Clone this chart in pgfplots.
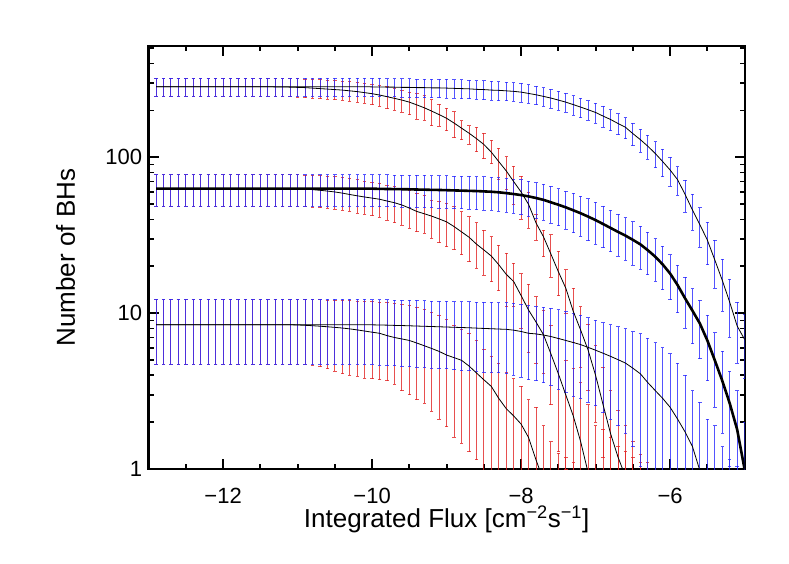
\documentclass[border=0pt]{standalone}
\usepackage{pgfplots}
\usepackage{pgfplotstable}
\pgfplotsset{compat=1.18}
\usepackage{fontspec}
\setmainfont{Liberation Sans}
\definecolor{cbl}{RGB}{40,40,255}
\definecolor{crd}{RGB}{225,35,35}

% A: top, blue bars, thin line
\pgfplotstableread{
x n lo hi
-12.9 284 246 322
-12.8 284 246 322
-12.7 284 246 322
-12.6 284 246 322
-12.5 284 246 322
-12.4 284 246 322
-12.3 284 246 322
-12.2 284 246 322
-12.1 284 246 322
-12.0 284 246 322
-11.9 284 246 322
-11.8 284 246 322
-11.7 284 246 322
-11.6 284 246 322
-11.5 284 246 322
-11.4 284 246 322
-11.3 284 246 322
-11.2 284 246 322
-11.1 284 246 322
-11.0 284 246 322
-10.9 284 246 322
-10.8 284 246 322
-10.7 284 246 322
-10.6 284 246 322
-10.5 284 246 322
-10.4 284 246 322
-10.3 284 246 322
-10.2 284 246 322
-10.1 284 246 322
-10.0 283 245 321
-9.9 283 245 321
-9.8 282 244 320
-9.7 282 244 320
-9.6 281 243 319
-9.5 281 243 319
-9.4 280 242 318
-9.3 280 242 318
-9.2 279 241 317
-9.1 279 241 317
-9.0 278 240 316
-8.9 277 239 315
-8.8 276 238 314
-8.7 275 237 313
-8.6 273 235 311
-8.5 272 234 310
-8.4 270 232 308
-8.3 269 231.5 306.5
-8.2 267 230 304
-8.1 265 228.5 301.5
-8.0 262 226 298
-7.9 257 221.5 292.5
-7.8 252 217 287
-7.7 246 212 280
-7.6 240 206.5 273.5
-7.5 233 200 266
-7.4 226 194 258
-7.3 218 187 249
-7.2 210 180 240
-7.1 202 172.5 231.5
-7.0 194 165 223
-6.9 184 156 212
-6.8 175 148.5 201.5
-6.7 165 140 190
-6.6 156 132 180
-6.5 142 119 165
-6.4 130 108 152
-6.3 118 97 139
-6.2 106 86 126
-6.1 94 75 113
-6.0 83 65.5 100.5
-5.9 72 57 87
-5.8 58 44.5 71.5
-5.7 46 34 58
-5.6 37 26.5 47.5
-5.5 29.5 20.5 38.5
-5.4 22 14.5 29.5
-5.3 16.3 10.3 22.3
-5.2 11.8 7 16.6
-5.1 8.3 4.8 11.8
-5.0 6.8 3.8 9.8
}\tabA

% B: top, red bars, thin line
\pgfplotstableread{
x n lo hi
-12.9 284 246 322
-12.8 284 246 322
-12.7 284 246 322
-12.6 284 246 322
-12.5 284 246 322
-12.4 284 246 322
-12.3 284 246 322
-12.2 284 246 322
-12.1 284 246 322
-12.0 284 246 322
-11.9 284 246 322
-11.8 284 246 322
-11.7 284 246 322
-11.6 284 246 322
-11.5 284 246 322
-11.4 284 246 322
-11.3 283 245 321
-11.2 283 245 321
-11.1 282 244 320
-11.0 281 243 319
-10.9 280 242 318
-10.8 278 240 316
-10.7 276 238 314
-10.6 274 236 312
-10.5 272 234 310
-10.4 270 232 308
-10.3 267 229 305
-10.2 264 226 302
-10.1 260 222 298
-10.0 256 218 294
-9.9 251 213 290
-9.8 245 205 285
-9.7 239 201 276
-9.6 233 195 268
-9.5 226 188 262
-9.4 217 175 256
-9.3 208 173 248
-9.2 198 160 234
-9.1 188 158 220
-9.0 178 148 206
-8.9 166 134 196
-8.8 154 130 172
-8.7 143 121 160
-8.6 132 109 156
-8.5 121 98 143
-8.4 108 91 129
-8.3 94 72 114
-8.2 82 62 101
-8.1 70 50 88
-8.0 60 40 76
-7.9 50 35 60
-7.8 38 29.5 43
-7.7 31 23 34
-7.6 24 17 32
-7.5 18.5 13 25
-7.4 14.5 10 19
-7.3 10.3 6.5 14.5
-7.2 7.8 4.5 11
-7.1 5.8 3.2 8.5
-7.0 4.0 2.0 6.2
-6.9 2.6 1.2 4.5
-6.8 1.7 0.7 3.2
-6.7 1.2 0.4 2.4
-6.6 0.9 0.3 1.9
-6.5 nan 0.2 1.5
-6.4 nan 0.2 1.25
-6.3 nan 0.2 1.1
}\tabB

% C: middle, blue bars, thick line
\pgfplotstableread{
x n lo hi
-12.9 63 48.5 77.5
-12.8 63 48.5 77.5
-12.7 63 48.5 77.5
-12.6 63 48.5 77.5
-12.5 63 48.5 77.5
-12.4 63 48.5 77.5
-12.3 63 48.5 77.5
-12.2 63 48.5 77.5
-12.1 63 48.5 77.5
-12.0 63 48.5 77.5
-11.9 63 48.5 77.5
-11.8 63 48.5 77.5
-11.7 63 48.5 77.5
-11.6 63 48.5 77.5
-11.5 63 48.5 77.5
-11.4 63 48.5 77.5
-11.3 63 48.5 77.5
-11.2 63 48.5 77.5
-11.1 63 48.5 77.5
-11.0 63 48.5 77.5
-10.9 63 48.5 77.5
-10.8 63 48.5 77.5
-10.7 63 48.5 77.5
-10.6 63 48.5 77.5
-10.5 63 48.5 77.5
-10.4 63 48.5 77.5
-10.3 63 48.5 77.5
-10.2 63 48.5 77.5
-10.1 63 48.5 77.5
-10.0 63 48.5 77.5
-9.9 62.8 48.3 77.3
-9.8 62.7 48.2 77.2
-9.7 62.6 48.1 77.1
-9.6 62.5 48 77
-9.5 62.4 47.9 76.9
-9.4 62.2 47.7 76.7
-9.3 62.1 47.6 76.6
-9.2 61.9 47.4 76.4
-9.1 61.8 47.3 76.3
-9.0 61.6 47.1 76.1
-8.9 61.4 46.9 75.9
-8.8 61.2 46.7 75.7
-8.7 61.0 46.5 75.5
-8.6 60.8 46.3 75.3
-8.5 60.5 46 75
-8.4 60.2 45.7 74.7
-8.3 59.7 45.2 74.2
-8.2 59.0 44.5 73.5
-8.1 58.2 43.7 72.7
-8.0 57.3 42.8 71.8
-7.9 56.2 41.9 70.5
-7.8 54.9 40.8 69
-7.7 53.4 39.5 67.3
-7.6 51.5 37.9 65.1
-7.5 49.7 36.4 63
-7.4 47.8 34.7 60.9
-7.3 45.8 32.9 58.7
-7.2 43.8 31.1 56.5
-7.1 41.7 29.2 54.2
-7.0 39.6 27.8 51.4
-6.9 37.4 26.3 48.5
-6.8 35.3 24.8 45.8
-6.7 33.3 23.3 43.3
-6.6 31.5 21.9 41.1
-6.5 29.6 20.4 38.8
-6.4 27.7 19.2 36.2
-6.3 25.4 17.7 33.1
-6.2 23.1 16.1 30.1
-6.1 20.6 14.2 27
-6.0 18.0 12.2 23.8
-5.9 15.2 10.1 20.3
-5.8 12.5 8 17
-5.7 10.4 6.4 14.4
-5.6 8.6 5.1 12.1
-5.5 6.7 3.7 9.7
-5.4 5.0 2.5 7.5
-5.3 3.7 1.7 5.7
-5.2 2.65 1.05 4.25
-5.1 1.8 0.4 3.2
-5.0 1.0 0.2 2.0
}\tabC

% D: middle, red bars, thin line
\pgfplotstableread{
x n lo hi
-12.9 63 48.5 77.5
-12.8 63 48.5 77.5
-12.7 63 48.5 77.5
-12.6 63 48.5 77.5
-12.5 63 48.5 77.5
-12.4 63 48.5 77.5
-12.3 63 48.5 77.5
-12.2 63 48.5 77.5
-12.1 63 48.5 77.5
-12.0 63 48.5 77.5
-11.9 63 48.5 77.5
-11.8 63 48.5 77.5
-11.7 63 48.5 77.5
-11.6 63 48.5 77.5
-11.5 63 48.5 77.5
-11.4 63 48.5 77.5
-11.3 63 48.5 77.5
-11.2 62.9 48.4 77.4
-11.1 62.8 48.4 77.3
-11.0 62.7 48.3 77.2
-10.9 62.5 48.3 77.1
-10.8 62.1 48.0 77.0
-10.7 61.5 47.6 76.6
-10.6 60.8 47.1 76.0
-10.5 60.0 46.6 75.3
-10.4 59.0 45.9 74.5
-10.3 57.8 45.0 73.0
-10.2 56.7 44.0 72.0
-10.1 55.7 43.2 70.6
-10.0 54.8 42.3 69.3
-9.9 53.9 41.4 68.0
-9.8 52.5 39.6 66.5
-9.7 51.2 38.1 64.9
-9.6 49.5 36.8 63.3
-9.5 47.3 35.1 61.7
-9.4 45.0 33.4 58.7
-9.3 43.5 32.6 57.3
-9.2 42.0 30.3 53.2
-9.1 40.3 28.4 52.0
-9.0 38.6 26.7 50.7
-8.9 36.0 25.5 48.3
-8.8 33.3 23.7 44.9
-8.7 30.8 21.4 41.7
-8.6 27.8 19.4 38.1
-8.5 25.5 17.6 34.2
-8.4 23.3 16.0 31.0
-8.3 20.5 14.0 27.4
-8.2 17.8 11.0 24.2
-8.1 16.0 11.1 20.9
-8.0 13.0 8.0 18.0
-7.9 10.5 5.6 15.4
-7.8 8.8 4.8 12.8
-7.7 7.3 4.1 10.5
-7.6 5.5 2.6 8.4
-7.5 4.1 1.3 6.9
-7.4 3.0 1.0 5.0
-7.3 2.2 0.2 4.4
-7.2 1.5 0.2 3.6
-7.1 0.95 0.2 2.6
-7.0 nan 0.2 1.9
-6.9 nan 0.2 1.8
-6.8 nan 0.2 1.6
-6.7 nan 0.2 1.4
-6.6 nan 0.2 1.3
-6.5 nan 0.2 1.2
-6.4 nan 0.2 1.1
}\tabD

% E: bottom, blue bars, thin line
\pgfplotstableread{
x n lo hi
-12.9 8.45 4.7 12.3
-12.8 8.45 4.7 12.3
-12.7 8.45 4.7 12.3
-12.6 8.45 4.7 12.3
-12.5 8.45 4.7 12.3
-12.4 8.45 4.7 12.3
-12.3 8.45 4.7 12.3
-12.2 8.45 4.7 12.3
-12.1 8.45 4.7 12.3
-12.0 8.45 4.7 12.3
-11.9 8.45 4.7 12.3
-11.8 8.45 4.7 12.3
-11.7 8.45 4.7 12.3
-11.6 8.45 4.7 12.3
-11.5 8.45 4.7 12.3
-11.4 8.45 4.7 12.3
-11.3 8.45 4.7 12.3
-11.2 8.45 4.7 12.3
-11.1 8.45 4.7 12.3
-11.0 8.45 4.7 12.3
-10.9 8.45 4.7 12.3
-10.8 8.45 4.7 12.3
-10.7 8.45 4.7 12.3
-10.6 8.45 4.7 12.3
-10.5 8.45 4.7 12.3
-10.4 8.45 4.7 12.3
-10.3 8.45 4.7 12.3
-10.2 8.45 4.7 12.3
-10.1 8.45 4.7 12.3
-10.0 8.44 4.7 12.2
-9.9 8.42 4.65 12.2
-9.8 8.40 4.6 12.2
-9.7 8.37 4.6 12.15
-9.6 8.35 4.55 12.15
-9.5 8.32 4.55 12.1
-9.4 8.29 4.5 12.1
-9.3 8.26 4.5 12.05
-9.2 8.23 4.45 12
-9.1 8.20 4.4 12
-9.0 8.17 4.4 11.95
-8.9 8.14 4.35 11.9
-8.8 8.11 4.3 11.9
-8.7 8.08 4.3 11.85
-8.6 8.04 4.25 11.8
-8.5 8.00 4.2 11.8
-8.4 7.97 4.2 11.8
-8.3 7.93 4.15 11.7
-8.2 7.90 4.1 11.7
-8.1 7.8 4.0 11.6
-8.0 7.65 3.9 11.4
-7.9 7.45 3.75 11.2
-7.8 7.38 3.7 11.0
-7.7 7.26 3.6 10.9
-7.6 7.1 3.45 10.75
-7.5 6.9 3.25 10.55
-7.4 6.7 3.1 10.3
-7.3 6.5 2.95 10.0
-7.2 6.3 2.85 9.7
-7.1 6.05 2.7 9.4
-7.0 5.8 2.55 9.05
-6.9 5.55 2.3 8.7
-6.8 5.3 2.1 8.45
-6.7 5.05 1.9 8.2
-6.6 4.8 1.7 7.95
-6.5 4.45 1.4 7.6
-6.4 4.1 1.05 7.4
-6.3 3.6 0.8 6.9
-6.2 3.2 0.5 6.5
-6.1 2.85 0.4 6.0
-6.0 2.5 0.3 5.5
-5.9 2.1 0.2 4.8
-5.8 1.74 0.2 4.0
-5.7 1.4 0.2 3.2
-5.6 0.98 0.2 2.7
-5.5 nan 0.2 2.1
-5.4 nan 0.2 1.9
-5.3 nan 0.2 1.4
-5.2 nan 0.2 1.15
-5.1 nan 0.2 1.05
}\tabE

% F: bottom, red bars, thin line
\pgfplotstableread{
x n lo hi
-12.9 8.45 4.7 12.3
-12.8 8.45 4.7 12.3
-12.7 8.45 4.7 12.3
-12.6 8.45 4.7 12.3
-12.5 8.45 4.7 12.3
-12.4 8.45 4.7 12.3
-12.3 8.45 4.7 12.3
-12.2 8.45 4.7 12.3
-12.1 8.45 4.7 12.3
-12.0 8.45 4.7 12.3
-11.9 8.45 4.7 12.3
-11.8 8.45 4.7 12.3
-11.7 8.45 4.7 12.3
-11.6 8.45 4.7 12.3
-11.5 8.45 4.7 12.3
-11.4 8.45 4.7 12.3
-11.3 8.45 4.7 12.3
-11.2 8.45 4.7 12.3
-11.1 8.45 4.7 12.3
-11.0 8.42 4.7 12.3
-10.9 8.38 4.7 12.3
-10.8 8.33 4.65 12.25
-10.7 8.27 4.55 12.2
-10.6 8.20 4.4 12.15
-10.5 8.13 4.25 12.15
-10.4 8.05 4.1 12.1
-10.3 7.95 4.0 12.05
-10.2 7.83 3.95 12.0
-10.1 7.70 3.85 11.95
-10.0 7.57 3.8 11.9
-9.9 7.45 3.75 11.8
-9.8 7.2 3.7 11.7
-9.7 7.0 3.5 11.6
-9.6 6.85 3.2 11.4
-9.5 6.7 3.0 11.2
-9.4 6.45 2.8 10.9
-9.3 6.2 2.65 10.6
-9.2 5.95 2.35 10.2
-9.1 5.7 2.1 9.7
-9.0 5.4 1.87 9.1
-8.9 5.2 1.6 8.4
-8.8 5.0 1.47 7.9
-8.7 4.6 1.3 7.4
-8.6 4.15 1.15 6.7
-8.5 3.75 0.3 5.9
-8.4 3.4 0.3 5.3
-8.3 2.85 0.3 4.8
-8.2 2.45 0.3 4.2
-8.1 2.2 0.3 3.8
-8.0 1.95 0.3 3.4
-7.9 1.6 0.3 2.8
-7.8 1.15 0.3 2.5
-7.7 0.85 0.3 1.9
-7.6 nan 0.3 1.5
-7.5 nan 0.3 1.27
-7.4 nan 0.3 1.2
-7.3 nan 0.3 1.1
}\tabF

\pgfplotsset{
  redbars/.style={forget plot, draw=none, mark=none,
    error bars/.cd, y dir=both, y explicit,
    error bar style={draw=crd, line width=0.9pt, opacity=0.8},
    error mark options={rotate=90, draw=crd, line width=0.9pt, mark size=1.7pt, opacity=0.8}},
  bluebars/.style={forget plot, draw=none, mark=none,
    error bars/.cd, y dir=both, y explicit,
    error bar style={draw=cbl, line width=0.9pt, opacity=0.8},
    error mark options={rotate=90, draw=cbl, line width=0.9pt, mark size=1.7pt, opacity=0.8}},
}

\begin{document}
\begin{tikzpicture}
\path[use as bounding box] (-148.6pt,-94.7pt) rectangle (640.4pt,469.3pt);
\begin{axis}[
  at={(0,0)}, anchor=south west,
  scale only axis, width=596pt, height=423.6pt,
  xmin=-13, xmax=-5, ymin=1, ymax=520, ymode=log,
  xtick={-12,-10,-8,-6}, xticklabels={−12,−10,−8,−6},
  minor xtick={-12.5,-11.5,-11,-10.5,-9.5,-9,-8.5,-7.5,-7,-6.5,-5.5},
  ytick={1,10,100}, yticklabels={1,10,100},
  minor ytick={2,3,4,5,6,7,8,9,20,30,40,50,60,70,80,90,200,300,400,500},
  xtick pos=both, ytick pos=both, tick align=inside,
  major tick length=10pt, minor tick length=5pt,
  every tick/.style={black, line width=1.8pt},
  axis line style={black, line width=2.2pt},
  tick label style={font=\fontsize{22}{26}\selectfont},
  xticklabel style={anchor=base, yshift=-34.5pt},
  yticklabel style={anchor=east, xshift=-3pt},
  label style={font=\fontsize{26}{30}\selectfont},
  xlabel={Integrated Flux [cm\textsuperscript{−2}s\textsuperscript{−1}]},
  xlabel style={at={(axis description cs:0.5,-0.1385)}, anchor=base},
  ylabel={Number of BHs},
  ylabel style={at={(axis description cs:-0.1235,0.5)}, anchor=base, rotate=0},
  clip=true,
]
% red error bars
\addplot[redbars] table[x=x, y expr={(\thisrow{hi}+\thisrow{lo})/2}, y error expr={(\thisrow{hi}-\thisrow{lo})/2}] {\tabB};
\addplot[redbars] table[x=x, y expr={(\thisrow{hi}+\thisrow{lo})/2}, y error expr={(\thisrow{hi}-\thisrow{lo})/2}] {\tabD};
\addplot[redbars] table[x=x, y expr={(\thisrow{hi}+\thisrow{lo})/2}, y error expr={(\thisrow{hi}-\thisrow{lo})/2}] {\tabF};
% blue error bars
\addplot[bluebars] table[x=x, y expr={(\thisrow{hi}+\thisrow{lo})/2}, y error expr={(\thisrow{hi}-\thisrow{lo})/2}] {\tabA};
\addplot[bluebars] table[x=x, y expr={(\thisrow{hi}+\thisrow{lo})/2}, y error expr={(\thisrow{hi}-\thisrow{lo})/2}] {\tabC};
\addplot[bluebars] table[x=x, y expr={(\thisrow{hi}+\thisrow{lo})/2}, y error expr={(\thisrow{hi}-\thisrow{lo})/2}] {\tabE};
% lines
\addplot[black, line width=0.8pt, mark=none, unbounded coords=jump] table[x=x, y=n] {\tabA};
\addplot[black, line width=0.8pt, mark=none, unbounded coords=jump] table[x=x, y=n] {\tabB};
\addplot[black, line width=2.6pt, mark=none, unbounded coords=jump] table[x=x, y=n] {\tabC};
\addplot[black, line width=0.8pt, mark=none, unbounded coords=jump] table[x=x, y=n] {\tabD};
\addplot[black, line width=0.8pt, mark=none, unbounded coords=jump] table[x=x, y=n] {\tabE};
\addplot[black, line width=0.8pt, mark=none, unbounded coords=jump] table[x=x, y=n] {\tabF};
\end{axis}
\end{tikzpicture}
\end{document}
